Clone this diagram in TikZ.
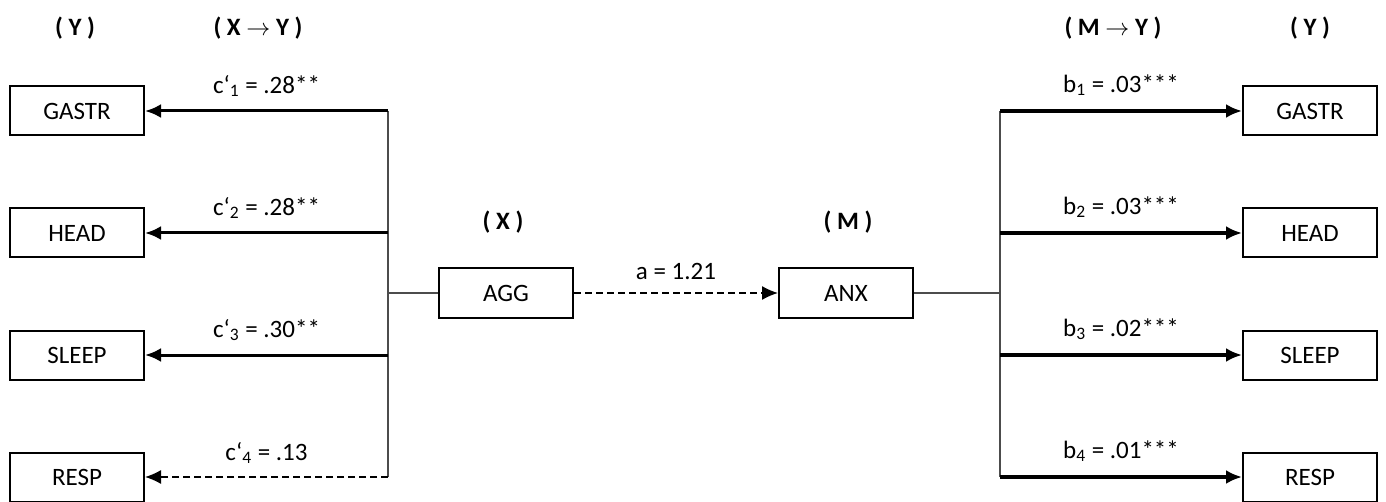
\documentclass[tikz,border=0pt]{standalone}
\usepackage{fontspec}
\setmainfont{Carlito}
\usetikzlibrary{arrows.meta}
\begin{document}
\begin{tikzpicture}[
                            x=0.5pt, y=-0.5pt,
                            >={Latex[length=8pt,width=7pt]},
                            font=\fontsize{12.5}{14}\selectfont,
                            var/.style={draw, rectangle, line width=1pt, minimum width=67pt, minimum height=24.5pt, inner sep=0pt},
                            head/.style={font=\fontsize{12.5}{14}\selectfont\bfseries},
                            thin/.style={draw=black!70, line width=0.6pt},
                            path/.style={line width=1.5pt},
                            bpath/.style={line width=2.4pt},
                            weak/.style={line width=0.7pt, dash pattern=on 3.5pt off 2pt}
                            ]
                            \useasboundingbox (0,0) rectangle (1386,502);

                            % predictor and mediator
                            \node [var] (agg) at (506,293) {AGG};
                            \node [var] (anx) at (846,293) {ANX};
                            \node [head] at (503,222) {( X )};
                            \node [head] at (848,222) {( M )};
                            \node [head] at (75,28) {( Y )};
                            \node [head] at (258,28) {( X $\rightarrow$ Y )};
                            \node [head] at (1113,28) {( M $\rightarrow$ Y )};
                            \node [head] at (1310,28) {( Y )};

                            % outcomes
                            \node [var] (gastrl) at (77,111) {GASTR};
                            \node [var] (headl) at (77,233) {HEAD};
                            \node [var] (sleepl) at (77,355) {SLEEP};
                            \node [var] (respl) at (77,477) {RESP};
                            \node [var] (gastrr) at (1310,111) {GASTR};
                            \node [var] (headr) at (1310,233) {HEAD};
                            \node [var] (sleepr) at (1310,355) {SLEEP};
                            \node [var] (respr) at (1310,477) {RESP};

                            % branch points
                            \coordinate (xl1) at (388,111);
                            \coordinate (xl2) at (388,233);
                            \coordinate (xl3) at (388,355);
                            \coordinate (xl4) at (388,477);
                            \coordinate (xm) at (388,293);
                            \coordinate (mr1) at (1000,111);
                            \coordinate (mr2) at (1000,233);
                            \coordinate (mr3) at (1000,355);
                            \coordinate (mr4) at (1000,477);
                            \coordinate (mm) at (1000,293);

                            \draw[thin] (xl1) -- (xl4);
                            \draw[thin] (agg) -- (xm);
                            \draw[thin] (mr1) -- (mr4);
                            \draw[thin] (anx) -- (mm);

                            \draw[->, weak] (agg) -- node[above=3pt]{a = 1.21} (anx);

                            \draw[->, path] (xl1) -- node[above=3pt]{c‘\textsubscript{1} = .28**} (gastrl);
                            \draw[->, path] (xl2) -- node[above=3pt]{c‘\textsubscript{2} = .28**} (headl);
                            \draw[->, path] (xl3) -- node[above=3pt]{c‘\textsubscript{3} = .30**} (sleepl);
                            \draw[->, weak] (xl4) -- node[above=3pt]{c‘\textsubscript{4} = .13} (respl);

                            \draw[->, bpath] (mr1) -- node[above=3pt]{b\textsubscript{1} = .03***} (gastrr);
                            \draw[->, bpath] (mr2) -- node[above=3pt]{b\textsubscript{2} = .03***} (headr);
                            \draw[->, bpath] (mr3) -- node[above=3pt]{b\textsubscript{3} = .02***} (sleepr);
                            \draw[->, bpath] (mr4) -- node[above=3pt]{b\textsubscript{4} = .01***} (respr);
                        \end{tikzpicture}
\end{document}
